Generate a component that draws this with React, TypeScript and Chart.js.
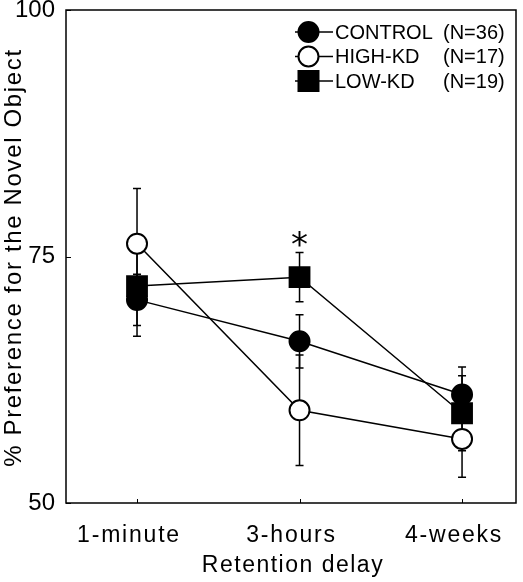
import React, { useEffect, useRef } from 'react';
import { Chart, registerables } from 'chart.js';

Chart.register(...registerables);

// ---- data ----
const categories = ['1-minute', '3-hours', '4-weeks'];
const seriesNames = ['CONTROL', 'HIGH-KD', 'LOW-KD'];
const sampleSizes = ['(N=36)', '(N=17)', '(N=19)'];

const controlMean = [70.6, 66.4, 61.0];
const controlErr = [2.6, 2.7, 2.8];
const highKdMean = [76.3, 59.4, 56.5];
const highKdErr = [5.6, 5.6, 3.9];
const lowKdMean = [72.0, 72.9, 59.1];
const lowKdErr = [5.1, 2.5, 3.8];
const lowKdSignificance = ['', '*', ''];

const yTicks = [50, 75, 100];
const yTitle = '% Preference for the Novel Object';
const xTitle = 'Retention delay';

const FONT = '"Liberation Sans", Arial, Helvetica, sans-serif';

export default function App() {
  const ref = useRef<HTMLCanvasElement>(null);

  useEffect(() => {
    const canvas = ref.current!;
    const series = [
      { name: seriesNames[0], n: sampleSizes[0], mean: controlMean, err: controlErr, style: 'circle', radius: 10, fill: '#000', sig: null as string[] | null },
      { name: seriesNames[1], n: sampleSizes[1], mean: highKdMean, err: highKdErr, style: 'circle', radius: 10, fill: '#fff', sig: null as string[] | null },
      { name: seriesNames[2], n: sampleSizes[2], mean: lowKdMean, err: lowKdErr, style: 'rect', radius: 14, fill: '#000', sig: lowKdSignificance },
    ];

    const drawMarker = (ctx: CanvasRenderingContext2D, style: string, fill: string, cx: number, cy: number) => {
      ctx.save();
      ctx.fillStyle = fill;
      ctx.strokeStyle = '#000';
      ctx.lineWidth = 2;
      ctx.beginPath();
      if (style === 'rect') {
        ctx.rect(cx - 10, cy - 10, 20, 20);
      } else {
        ctx.arc(cx, cy, 10, 0, Math.PI * 2);
      }
      ctx.fill();
      ctx.stroke();
      ctx.restore();
    };

    const plugin = {
      id: 'customDecor',
      beforeDatasetsDraw(chart: any) {
        const { ctx, chartArea: a, scales } = chart;
        const xs = scales.x;
        const ys = scales.y;
        ctx.save();
        ctx.strokeStyle = '#000';
        ctx.lineWidth = 1.5;
        ctx.strokeRect(a.left, a.top, a.right - a.left, a.bottom - a.top);
        // inward tick marks
        ctx.lineWidth = 1;
        yTicks.forEach((v) => {
          const py = Math.round(ys.getPixelForValue(v)) + 0.5;
          ctx.beginPath();
          ctx.moveTo(a.left, py);
          ctx.lineTo(a.left + 5, py);
          ctx.stroke();
        });
        categories.forEach((_, i) => {
          const px = Math.round(xs.getPixelForValue(i)) + 0.5;
          ctx.beginPath();
          ctx.moveTo(px, a.bottom);
          ctx.lineTo(px, a.bottom - 4);
          ctx.stroke();
        });
        // error bars
        ctx.lineWidth = 1.5;
        series.forEach((s) => {
          s.mean.forEach((m, i) => {
            const px = xs.getPixelForValue(i);
            const top = ys.getPixelForValue(m + s.err[i]);
            const bot = ys.getPixelForValue(m - s.err[i]);
            ctx.beginPath();
            ctx.moveTo(px, top);
            ctx.lineTo(px, bot);
            ctx.moveTo(px - 4, top);
            ctx.lineTo(px + 4, top);
            ctx.moveTo(px - 4, bot);
            ctx.lineTo(px + 4, bot);
            ctx.stroke();
          });
        });
        ctx.restore();
      },
      afterDatasetsDraw(chart: any) {
        const { ctx, chartArea: a, scales } = chart;
        const xs = scales.x;
        const ys = scales.y;
        ctx.save();
        ctx.fillStyle = '#000';

        // significance marks
        series.forEach((s) => {
          if (!s.sig) return;
          s.sig.forEach((mark, i) => {
            if (!mark) return;
            ctx.font = '34px "DejaVu Sans", sans-serif';
            ctx.textAlign = 'center';
            ctx.textBaseline = 'alphabetic';
            const m = ctx.measureText(mark);
            const cy = ys.getPixelForValue(s.mean[i] + s.err[i]) - 14;
            const by = cy + (m.actualBoundingBoxAscent - m.actualBoundingBoxDescent) / 2;
            ctx.fillText(mark, xs.getPixelForValue(i), by);
          });
        });

        // legend
        series.forEach((s, i) => {
          const ry = 32 + i * 24.5;
          ctx.strokeStyle = '#000';
          ctx.lineWidth = 1.5;
          ctx.beginPath();
          ctx.moveTo(295, ry);
          ctx.lineTo(333, ry);
          ctx.stroke();
          drawMarker(ctx, s.style, s.fill, 308.5, ry);
          ctx.fillStyle = '#000';
          ctx.font = `20px ${FONT}`;
          ctx.textAlign = 'left';
          ctx.textBaseline = 'middle';
          (ctx as any).letterSpacing = '0px';
          ctx.fillText(s.name, 335, ry + 1);
          ctx.fillText(s.n, 443, ry + 1);
        });

        // x tick labels
        ctx.font = `23px ${FONT}`;
        (ctx as any).letterSpacing = '1.8px';
        ctx.textAlign = 'center';
        ctx.textBaseline = 'alphabetic';
        categories.forEach((c, i) => {
          ctx.fillText(c, xs.getPixelForValue(i) - 8, a.bottom + 39);
        });

        // x title
        (ctx as any).letterSpacing = '1.5px';
        ctx.fillText(xTitle, (a.left + a.right) / 2 + 2, a.bottom + 69);

        // y title
        ctx.font = `24px ${FONT}`;
        (ctx as any).letterSpacing = '1.65px';
        ctx.translate(21, (a.top + a.bottom) / 2 + 1);
        ctx.rotate(-Math.PI / 2);
        ctx.textAlign = 'center';
        ctx.textBaseline = 'alphabetic';
        ctx.fillText(yTitle, 0, 0);
        ctx.restore();
      },
    };

    const chart = new Chart(canvas, {
      type: 'line',
      data: {
        datasets: series.map((s) => ({
          label: s.name,
          data: s.mean.map((v, i) => ({ x: i, y: v })),
          borderColor: '#000',
          borderWidth: 1.5,
          pointStyle: s.style as any,
          pointRadius: s.radius,
          pointHoverRadius: s.radius,
          pointBackgroundColor: s.fill,
          pointBorderColor: '#000',
          pointBorderWidth: 2,
          fill: false,
          tension: 0,
        })),
      },
      options: {
        responsive: false,
        animation: false,
        devicePixelRatio: 1,
        layout: { autoPadding: false, padding: { top: 10, right: 7, left: 0, bottom: 0 } },
        plugins: { legend: { display: false }, tooltip: { enabled: false } },
        scales: {
          x: {
            type: 'linear',
            min: -0.437,
            max: 2.332,
            grid: { display: false, drawTicks: false },
            border: { display: false },
            ticks: { display: false },
            afterFit: (s: any) => {
              s.height = 79;
              s.paddingLeft = 0;
              s.paddingRight = 0;
            },
          },
          y: {
            type: 'linear',
            min: 50,
            max: 100,
            afterBuildTicks: (s: any) => {
              s.ticks = yTicks.map((v) => ({ value: v }));
            },
            grid: { display: false, drawTicks: false },
            border: { display: false },
            ticks: { font: { family: FONT, size: 24 }, color: '#000', padding: 11 },
            afterFit: (s: any) => {
              s.width = 66;
              s.paddingTop = 0;
              s.paddingBottom = 0;
            },
          },
        },
      } as any,
      plugins: [plugin],
    });
    return () => chart.destroy();
  }, []);

  return (
    <div style={{ position: 'absolute', left: 0, top: 0, width: 523, height: 582, background: '#fff' }}>
      <canvas ref={ref} width={523} height={582} style={{ display: 'block' }} />
    </div>
  );
}
